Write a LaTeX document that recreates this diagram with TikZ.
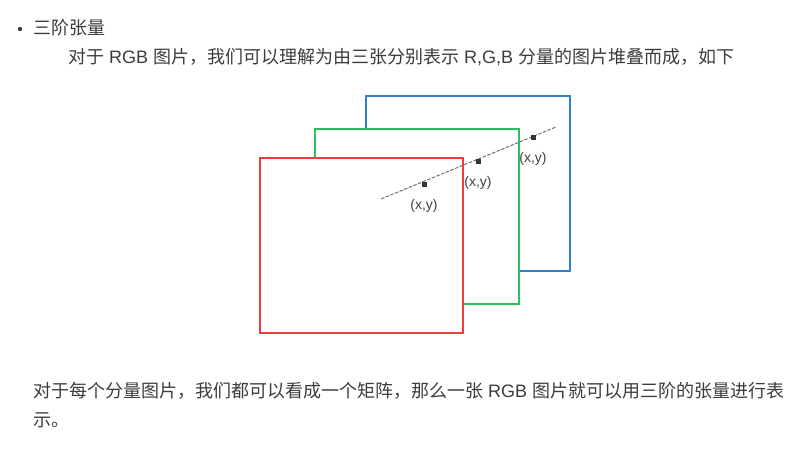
\documentclass[tikz,border=0pt]{standalone}
\usepackage{fontspec}
\setmainfont{Noto Sans CJK SC}
\newfontfamily\latin{Liberation Sans}
\usepackage{xcolor}
\usetikzlibrary{positioning}
\definecolor{txt}{HTML}{3C3C3C}
\definecolor{redR}{HTML}{F03C3C}
\definecolor{greenG}{HTML}{2DBE60}
\definecolor{blueB}{HTML}{2E80CC}
\newcommand{\lt}[1]{{\latin #1}}
\begin{document}
\begin{tikzpicture}[x=1pt,y=-1pt,
  line/.style={anchor=west,inner sep=0pt,text=txt,font=\fontsize{18}{19}\selectfont},
  pix/.style={fill=black!80,minimum size=5pt,inner sep=0pt},
  xy/.style={text=black!75,font=\latin\fontsize{14}{15}\selectfont,inner sep=0pt}]
\useasboundingbox (0,0) rectangle (802,451);
\fill [txt] (20,29) circle (2.2);
\node [line] (t1) at (33,28) {三阶张量};
\node [line] (t2) at (68,57) {对于\lt{ RGB }图片，我们可以理解为由三张分别表示\lt{ R,G,B }分量的图片堆叠而成，如下};
% three layers
\draw [blueB, line width=2] (366,96) rectangle (570,271);
\filldraw [fill=white, draw=greenG, line width=2] (315,129) rectangle (518.5,303.5);
\filldraw [fill=white, draw=redR, line width=2] (260,158) rectangle (463,333);
\coordinate (a) at (381,199);
\coordinate (b) at (556,127);
\draw [black!55, dash pattern=on 3.5pt off 1.5pt, line width=1] (a) -- (b);
\node [pix] (p1) at (424,184) {};
\node [pix] (p2) at (478,161) {};
\node [pix] (p3) at (533,137) {};
\node [xy, below=12pt of p1] (l1) {(x,y)};
\node [xy, below=12pt of p2] (l2) {(x,y)};
\node [xy, below=12pt of p3] (l3) {(x,y)};
\node [line] (t3) at (33,391) {对于每个分量图片，我们都可以看成一个矩阵，那么一张\lt{ RGB }图片就可以用三阶的张量进行表};
\node [line] (t4) at (33,420) {示。};
\end{tikzpicture}
\end{document}
